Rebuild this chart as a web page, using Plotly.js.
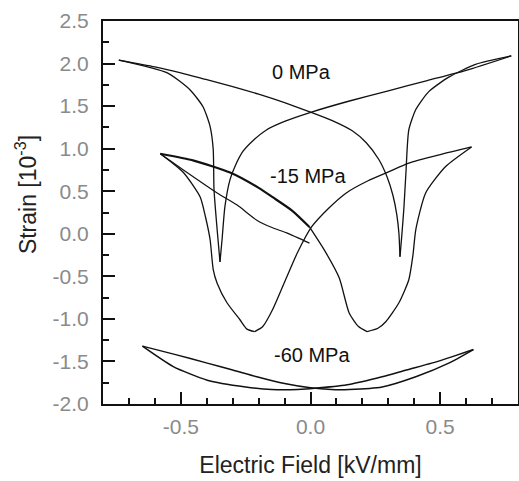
<!DOCTYPE html>
<html>
<head>
<meta charset="utf-8">
<script src="https://cdn.plot.ly/plotly-3.0.1.min.js"></script>
<style>html,body{margin:0;padding:0;background:#fff;}#chart{width:519px;height:481px;}</style>
</head>
<body>
<div id="chart"></div>
<script>
// ---- 0 MPa butterfly loop ----
const e0_a = [-0.739, -0.60, -0.50, -0.40, -0.30, -0.20, -0.10, 0.00, 0.084, 0.161, 0.215, 0.264, 0.295, 0.318, 0.333, 0.341, 0.345];
const s0_a = [2.04, 1.96, 1.89, 1.81, 1.73, 1.64, 1.54, 1.43, 1.33, 1.21, 1.07, 0.87, 0.67, 0.45, 0.22, 0.00, -0.27];
const e0_b = [0.345, 0.352, 0.360, 0.368, 0.379, 0.406, 0.456, 0.533, 0.636, 0.774];
const s0_b = [-0.27, -0.02, 0.30, 0.72, 1.22, 1.46, 1.67, 1.84, 1.99, 2.09];
const e0_c = [0.774, 0.60, 0.45, 0.30, 0.15, 0.004, -0.10, -0.17, -0.22, -0.26, -0.29, -0.31, -0.33, -0.341, -0.349];
const s0_c = [2.09, 1.92, 1.80, 1.68, 1.56, 1.43, 1.32, 1.22, 1.10, 0.97, 0.80, 0.64, 0.32, -0.07, -0.33];
const e0_d = [-0.349, -0.360, -0.372, -0.375, -0.387, -0.414, -0.464, -0.552, -0.739];
const s0_d = [-0.33, 0.05, 0.52, 0.99, 1.26, 1.49, 1.69, 1.89, 2.04];

// ---- -15 MPa loop ----
const e15_virgin = [-0.004, -0.092, -0.146, -0.207, -0.284, -0.36, -0.49, -0.579];
const s15_virgin = [-0.11, 0.01, 0.07, 0.16, 0.34, 0.48, 0.75, 0.94];
const e15_a = [-0.579, -0.45, -0.31, -0.20, -0.146, -0.07, -0.004];
const s15_a = [0.94, 0.86, 0.72, 0.54, 0.43, 0.27, 0.08];
const e15_a2 = [-0.004, 0.057, 0.111, 0.149, 0.185, 0.218];
const s15_a2 = [0.08, -0.21, -0.52, -0.93, -1.09, -1.15];
const e15_b = [0.218, 0.26, 0.291, 0.341, 0.379, 0.395, 0.406, 0.444, 0.521, 0.621];
const s15_b = [-1.15, -1.11, -1.03, -0.81, -0.54, -0.25, 0.05, 0.48, 0.79, 1.02];
const e15_c = [0.621, 0.50, 0.379, 0.303, 0.22, 0.138, 0.07, 0.004, -0.05, -0.092, -0.146, -0.184, -0.215];
const s15_c = [1.02, 0.93, 0.83, 0.73, 0.62, 0.48, 0.30, 0.08, -0.22, -0.51, -0.89, -1.09, -1.15];
const e15_d = [-0.215, -0.245, -0.272, -0.322, -0.36, -0.375, -0.387, -0.405, -0.425, -0.49, -0.579];
const s15_d = [-1.15, -1.12, -1.01, -0.81, -0.58, -0.42, -0.07, 0.20, 0.43, 0.72, 0.94];

// ---- -60 MPa loop ----
const e60_a = [-0.648, -0.52, -0.398, -0.30, -0.207, -0.10, 0.00, 0.08, 0.149, 0.276, 0.406, 0.533, 0.628];
const s60_a = [-1.32, -1.42, -1.52, -1.60, -1.68, -1.76, -1.81, -1.83, -1.83, -1.80, -1.68, -1.52, -1.36];
const e60_b = [0.628, 0.55, 0.467, 0.37, 0.276, 0.149, 0.034, -0.05, -0.15, -0.25, -0.398, -0.529, -0.648];
const s60_b = [-1.36, -1.44, -1.52, -1.60, -1.68, -1.77, -1.81, -1.83, -1.83, -1.80, -1.72, -1.56, -1.32];

// ---- labels ----
const labelText = ['0 MPa', '-15 MPa', '-60 MPa'];
const labelX = [-0.034, -0.011, 0.004];
const labelY = [1.90, 0.68, -1.42];

const yTickVals = [-2.0, -1.5, -1.0, -0.5, 0.0, 0.5, 1.0, 1.5, 2.0, 2.5];
const yTickText = ['-2.0', '-1.5', '-1.0', '-0.5', '0.0', '0.5', '1.0', '1.5', '2.0', '2.5'];
const xTickVals = [-0.5, 0.0, 0.5];
const xTickText = ['-0.5', '0.0', '0.5'];

function line(x, y, w) {
  return {x: x, y: y, mode: 'lines', type: 'scatter', line: {color: '#111', width: w, shape: 'spline', smoothing: 0.6}, hoverinfo: 'skip', showlegend: false};
}

const traces = [
  line(e0_a, s0_a, 1.3), line(e0_b, s0_b, 1.3), line(e0_c, s0_c, 1.3), line(e0_d, s0_d, 1.3),
  line(e15_virgin, s15_virgin, 1.2), line(e15_a, s15_a, 2.2), line(e15_a2, s15_a2, 1.3),
  line(e15_b, s15_b, 1.3), line(e15_c, s15_c, 1.3), line(e15_d, s15_d, 1.3),
  line(e60_a, s60_a, 1.5), line(e60_b, s60_b, 1.5)
];

const tickFont = {family: 'Liberation Sans, Arial, sans-serif', size: 21, color: '#8a8a8a'};

const layout = {
  width: 519, height: 481,
  margin: {l: 103, r: 1, t: 21, b: 77},
  paper_bgcolor: '#fff', plot_bgcolor: '#fff',
  xaxis: {
    range: [-0.8, 0.8], tickvals: xTickVals, ticktext: xTickText,
    ticks: 'inside', ticklen: 12, tickwidth: 2, tickcolor: '#111',
    minor: {dtick: 0.1, tick0: 0, ticks: 'inside', ticklen: 6, tickwidth: 2, tickcolor: '#111'},
    showline: true, linecolor: '#111', linewidth: 2, mirror: true,
    showgrid: false, zeroline: false, tickfont: tickFont, ticklabelstandoff: 3,
    title: {text: 'Electric Field [kV/mm]', font: {family: 'Liberation Sans, Arial, sans-serif', size: 23, color: '#222'}, standoff: 20}
  },
  yaxis: {
    range: [-2.0, 2.5], tickvals: yTickVals, ticktext: yTickText,
    ticks: 'inside', ticklen: 12, tickwidth: 2, tickcolor: '#111',
    minor: {dtick: 0.25, tick0: 0, ticks: 'inside', ticklen: 6, tickwidth: 2, tickcolor: '#111'},
    showline: true, linecolor: '#111', linewidth: 2, mirror: true,
    showgrid: false, zeroline: false, tickfont: tickFont, ticklabelstandoff: 8
  },
  annotations: labelText.map((t, i) => ({
    x: labelX[i], y: labelY[i], xref: 'x', yref: 'y', text: t, showarrow: false,
    font: {family: 'Liberation Sans, Arial, sans-serif', size: 20, color: '#111'}
  })).concat([{
    xref: 'paper', yref: 'paper', x: -0.185, y: 0.546, xanchor: 'center', yanchor: 'middle',
    text: 'Strain [10<sup>-3</sup>]', textangle: -90, showarrow: false,
    font: {family: 'Liberation Sans, Arial, sans-serif', size: 23, color: '#222'}
  }])
};

Plotly.newPlot('chart', traces, layout, {displayModeBar: false, staticPlot: true});
</script>
</body>
</html>
